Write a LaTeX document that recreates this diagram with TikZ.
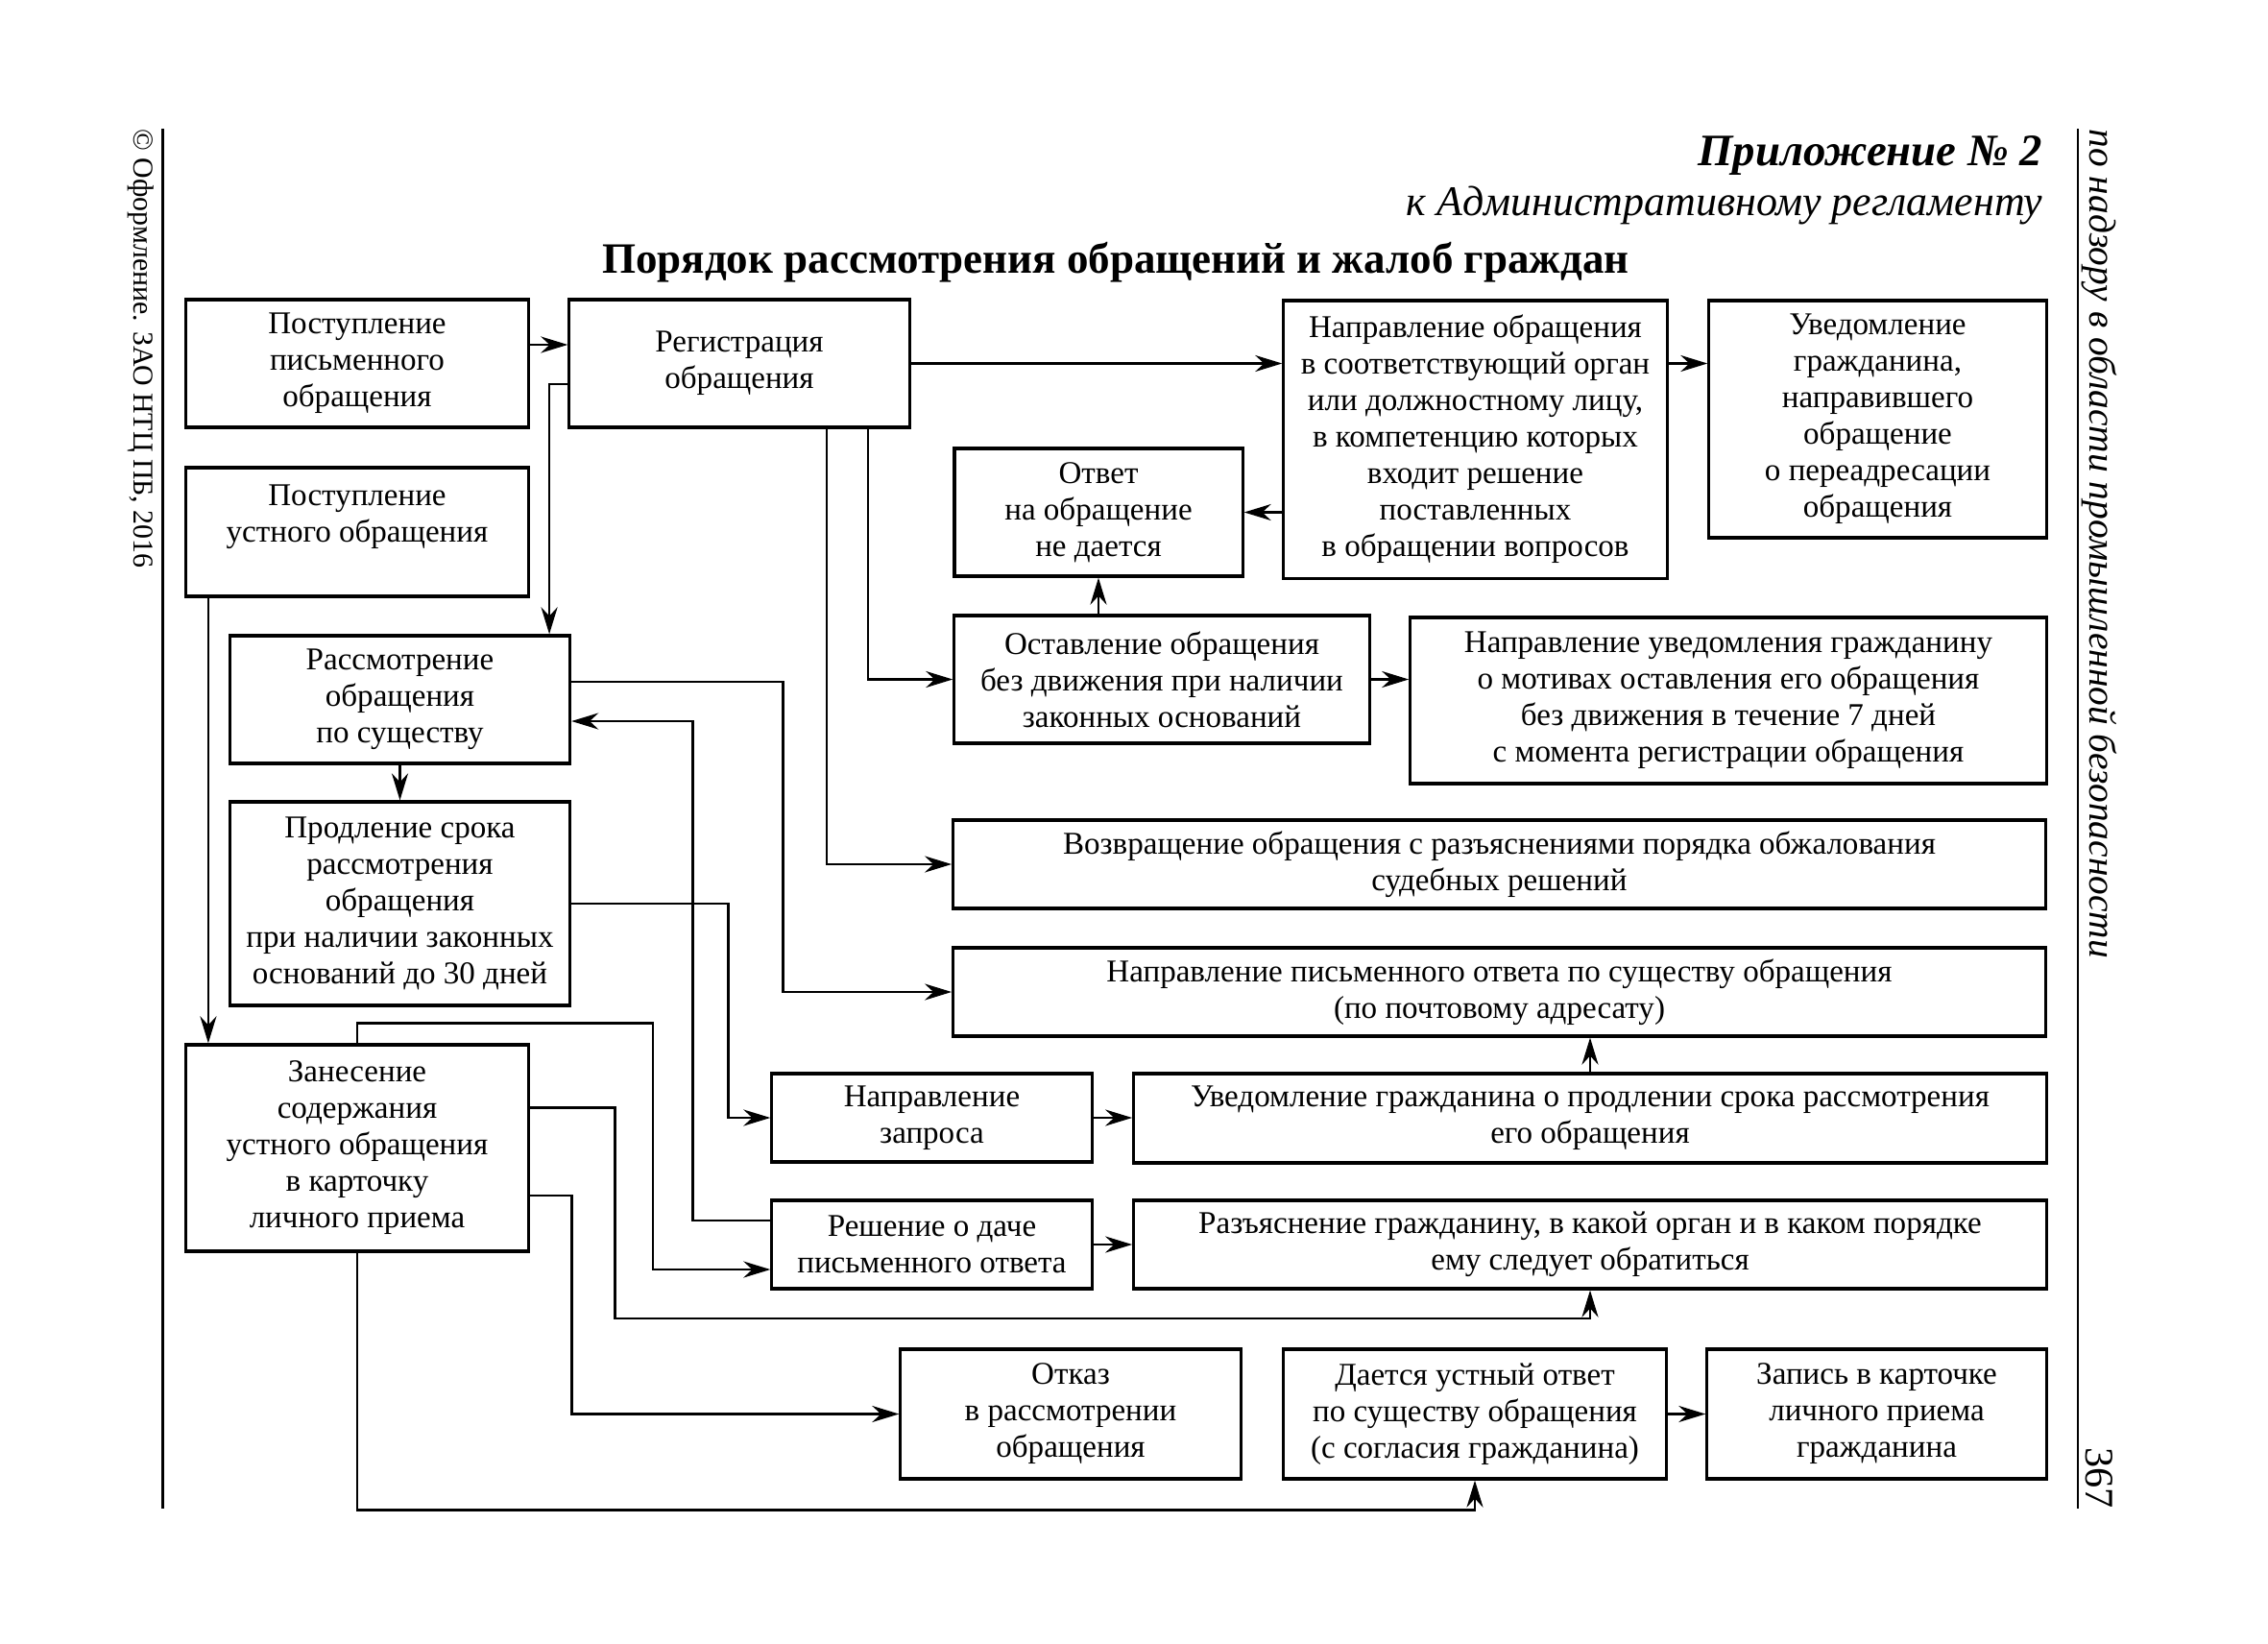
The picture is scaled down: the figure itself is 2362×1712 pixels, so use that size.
\documentclass[tikz,border=0pt]{standalone}
\usepackage{fontspec}
\setmainfont{Liberation Serif}
\usetikzlibrary{arrows.meta}

\begin{document}
\begin{tikzpicture}[x=0.01cm,y=-0.01cm,
  blk/.style={draw, line width=0.9pt, align=center, inner sep=1pt, font=\fontsize{9.4}{10.8}\selectfont},
  conn/.style={line width=0.8pt, -{Stealth[length=2.8mm,width=1.7mm]}}]
\useasboundingbox (0,0) rectangle (2362,1712);

\node (21) at (2128,172) [anchor=base east, inner sep=0pt, font=\fontsize{13.3}{16}\selectfont\bfseries\itshape] {Приложение №~2};
\node (22) at (2128,224) [anchor=base east, inner sep=0pt, font=\fontsize{12.5}{15}\selectfont\itshape] {к Административному регламенту};
\node (23) at (1162,284) [anchor=base, inner sep=0pt, font=\fontsize{12.8}{15}\selectfont\bfseries] {Порядок рассмотрения обращений и жалоб граждан};
\node (24) at (147,134) [anchor=west, rotate=-90, inner sep=0pt, font=\fontsize{8.5}{10}\selectfont] {© Оформление. ЗАО НТЦ ПБ, 2016};
\node (25) at (2186,134) [anchor=west, rotate=-90, inner sep=0pt, font=\fontsize{11.2}{13}\selectfont\itshape] {по надзору в области промышленной безопасности};
\node (26) at (2186,1571) [anchor=east, rotate=-90, inner sep=0pt, font=\fontsize{12}{14}\selectfont] {367};
\draw[line width=0.6pt] (169.5,134) -- (169.5,1571);
\draw[line width=0.6pt] (2164,134) -- (2164,1571);

\node (1) at (372,378.5) [blk, minimum width=3.56cm, minimum height=1.33cm] {Поступление\\письменного\\обращения};
\node (2) at (770,378.5) [blk, minimum width=3.54cm, minimum height=1.33cm] {Регистрация\\обращения};
\node (3) at (1536.5,457.5) [blk, minimum width=3.99cm, minimum height=2.89cm] {Направление обращения\\в соответствующий орган\\или должностному лицу,\\в компетенцию которых\\входит решение\\поставленных\\в обращении вопросов};
\node (4) at (1955.5,436.5) [blk, minimum width=3.51cm, minimum height=2.47cm] {Уведомление\\гражданина,\\направившего\\обращение\\о переадресации\\обращения};
\node (5) at (372,554) [blk, minimum width=3.56cm, minimum height=1.34cm] {Поступление\\устного обращения\\\mbox{}};
\node (6) at (1144,533.5) [blk, minimum width=3.00cm, minimum height=1.33cm] {Ответ\\на обращение\\не дается};
\node (7) at (416.5,728.5) [blk, minimum width=3.54cm, minimum height=1.33cm] {Рассмотрение\\обращения\\по существу};
\node (8) at (1210,707.5) [blk, minimum width=4.32cm, minimum height=1.33cm] {Оставление обращения\\без движения при наличии\\законных оснований};
\node (9) at (1800,729.5) [blk, minimum width=6.62cm, minimum height=1.73cm] {Направление уведомления гражданину\\о мотивах оставления его обращения\\без движения в течение 7 дней\\с момента регистрации обращения};
\node (10) at (416.5,941) [blk, minimum width=3.54cm, minimum height=2.12cm] {Продление срока\\рассмотрения\\обращения\\при наличии законных\\оснований до 30 дней};
\node (11) at (1561.5,900) [blk, minimum width=11.37cm, minimum height=0.92cm] {Возвращение обращения с разъяснениями порядка обжалования\\судебных решений};
\node (12) at (1561.5,1033) [blk, minimum width=11.37cm, minimum height=0.92cm] {Направление письменного ответа по существу обращения\\(по почтовому адресату)};
\node (13) at (372,1195.5) [blk, minimum width=3.56cm, minimum height=2.15cm] {Занесение\\содержания\\устного обращения\\в карточку\\личного приема};
\node (14) at (970.5,1164) [blk, minimum width=3.33cm, minimum height=0.92cm] {Направление\\запроса};
\node (15) at (1656,1164.5) [blk, minimum width=9.50cm, minimum height=0.93cm] {Уведомление гражданина о продлении срока рассмотрения\\его обращения};
\node (16) at (970.5,1296) [blk, minimum width=3.33cm, minimum height=0.92cm] {Решение о даче\\письменного ответа};
\node (17) at (1656,1296) [blk, minimum width=9.50cm, minimum height=0.92cm] {Разъяснение гражданину, в какой орган и в каком порядке\\ему следует обратиться};
\node (18) at (1115,1472.5) [blk, minimum width=3.54cm, minimum height=1.35cm] {Отказ\\в рассмотрении\\обращения};
\node (19) at (1536,1472.5) [blk, minimum width=3.98cm, minimum height=1.35cm] {Дается устный ответ\\по существу обращения\\(с согласия гражданина)};
\node (20) at (1954.5,1472.5) [blk, minimum width=3.53cm, minimum height=1.35cm] {Запись в карточке\\личного приема\\гражданина};

\draw[conn] ([yshift=0.195cm]1.east) -- ([yshift=0.195cm]2.west);
\draw[conn] ([yshift=-0.215cm]2.west) -| ([xshift=1.555cm]7.north);
\draw[conn] (2.east) -- (2.east -| 3.west);
\draw[conn] (2.east -| 3.east) -- (2.east -| 4.west);
\draw[conn] (3.west |- 6.east) -- (6.east);
\draw[conn] (6.south |- 8.north) -- (6.south);
\draw[conn] ([xshift=1.34cm]2.south) |- (8.west);
\draw[conn] (8.east) -- (8.east -| 9.west);
\draw[conn] ([xshift=0.91cm]2.south) |- (11.west);
\draw[conn] ([yshift=0.185cm]7.east) -- ++(220,0) |- (12.west);
\draw[conn] ([yshift=0.25cm]16.west) -- ++(-81,0) |- ([yshift=-0.225cm]7.east);
\draw[conn] (7.south) -- (10.north);
\draw[conn] (10.east) -- ++(163,0) |- (14.west);
\draw[conn] ([xshift=-1.55cm]5.south) -- ([xshift=-1.55cm]13.north);
\draw[conn] (13.north) -- ++(0,-21) -- ++(308,0) |- ([yshift=-0.26cm]16.west);
\draw[conn] ([yshift=0.42cm]13.east) -- ++(89,0) -- ++(0,219.5) -| (17.south);
\draw[conn] ([yshift=-0.495cm]13.east) -- ++(44,0) |- (18.west);
\draw[conn] (13.south) -- ++(0,268) -| (19.south);
\draw[conn] (14.east) -- (14.east -| 15.west);
\draw[conn] (15.north) -- (15.north |- 12.south);
\draw[conn] (16.east) -- (16.east -| 17.west);
\draw[conn] (19.east) -- (20.west);
\end{tikzpicture}
\end{document}
